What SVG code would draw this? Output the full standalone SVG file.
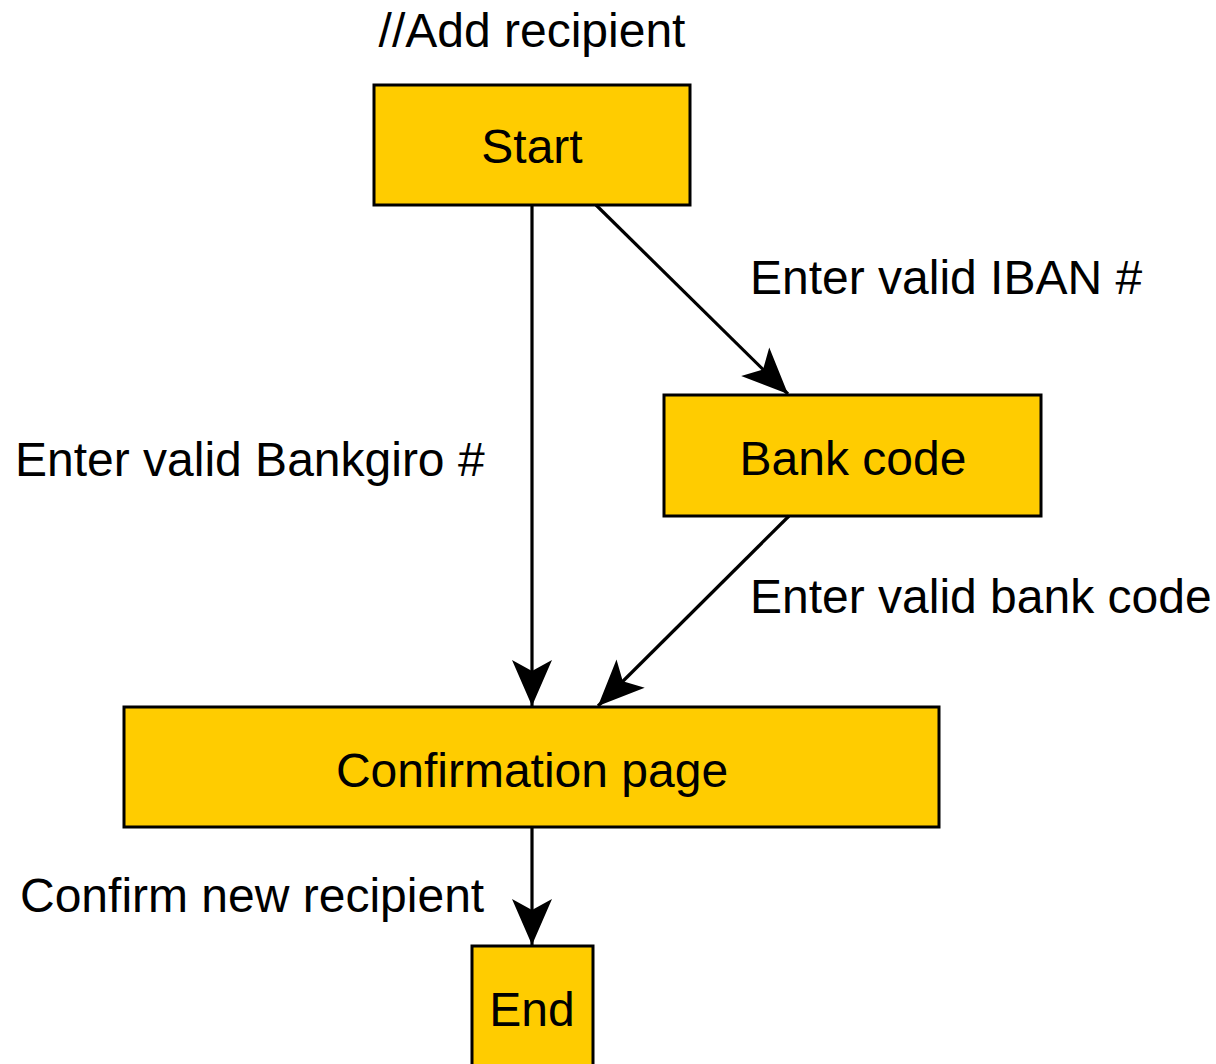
<svg xmlns="http://www.w3.org/2000/svg" width="1216" height="1064" viewBox="0 0 1216 1064">
<style>
.node rect{fill:#FFCC00;stroke:#000;stroke-width:3}
text{font-family:"Liberation Sans",Arial,sans-serif;font-size:48px;fill:#000}
.c{text-anchor:middle}
.edge{stroke:#000;stroke-width:3.2;fill:none;marker-end:url(#arr)}
</style>
<defs>
<marker id="arr" markerUnits="userSpaceOnUse" viewBox="-50 -22 52 44" refX="0" refY="0" markerWidth="52" markerHeight="44" orient="auto">
<path d="M0,0 L-46,-20 L-35,0 L-46,20 Z" fill="#000"/>
</marker>
</defs>
<rect width="1216" height="1064" fill="#fff"/>
<text class="c" x="532" y="47">//Add recipient</text>
<g id="start" class="node"><rect x="374" y="85" width="316" height="120"/><text class="c" x="532" y="163">Start</text></g>
<g id="bankcode" class="node"><rect x="664" y="395" width="377" height="121"/><text class="c" x="853" y="475">Bank code</text></g>
<g id="confirmation" class="node"><rect x="124" y="707" width="815" height="120"/><text class="c" x="532" y="787">Confirmation page</text></g>
<g id="end" class="node"><rect x="472" y="946" width="121" height="130"/><text class="c" x="532" y="1026">End</text></g>
<g id="connectors">
<line class="edge" x1="532" y1="205" x2="532" y2="706"/>
<line class="edge" x1="596" y1="205" x2="788" y2="394"/>
<line class="edge" x1="789" y1="516" x2="598" y2="706"/>
<line class="edge" x1="532" y1="827" x2="532" y2="945"/>
</g>
<g id="labels">
<text x="750" y="294">Enter valid IBAN #</text>
<text x="15" y="476">Enter valid Bankgiro #</text>
<text x="750" y="613">Enter valid bank code</text>
<text x="20" y="912">Confirm new recipient</text>
</g>
</svg>
